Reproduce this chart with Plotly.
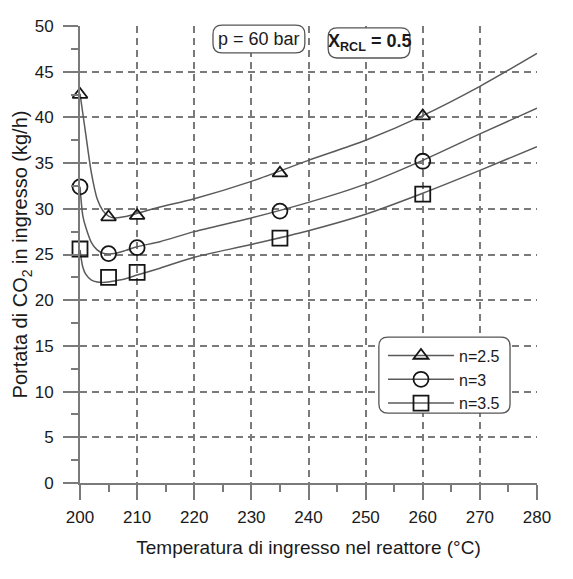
import plotly.graph_objects as go

# Measured inlet CO2 flow rate vs reactor inlet temperature
TEMP = [200, 205, 210, 235, 260]
FLOW_N25 = [42.5, 29.1, 29.25, 33.9, 40.15]
FLOW_N3 = [32.4, 25.1, 25.75, 29.75, 35.2]
FLOW_N35 = [25.6, 22.5, 23.05, 26.8, 31.6]

# Fitted trend curves
FIT_T = [200, 200.5, 201, 202, 203, 204, 205, 206, 208, 210, 214, 220, 230, 240, 250, 260, 270, 280]
FIT_N25 = [42.6, 40.4, 38.2, 33.9, 31.1, 29.8, 29.2, 29.0, 29.15, 29.5, 30.2, 31.1, 33.0, 35.3, 37.5, 40.2, 43.4, 47.0]
FIT_N3 = [32.4, 29.2, 28.0, 26.3, 25.5, 25.15, 25.05, 25.1, 25.45, 25.85, 26.4, 27.5, 29.0, 30.7, 32.7, 35.3, 38.2, 41.0]
FIT_N35 = [25.5, 23.6, 22.85, 22.2, 22.0, 21.95, 22.0, 22.1, 22.35, 22.75, 23.5, 24.7, 26.1, 27.6, 29.4, 31.7, 34.2, 36.8]

SERIES = [
    ("n=2.5", FLOW_N25, FIT_N25, "triangle-up-open", 13),
    ("n=3", FLOW_N3, FIT_N3, "circle-open", 15),
    ("n=3.5", FLOW_N35, FIT_N35, "square-open", 15),
]

FONT = "Liberation Sans, Arial, sans-serif"
CURVE_COLOR = "#5a5a5a"
MARK_COLOR = "#151515"
GRID_COLOR = "#7a7a7a"
TEXT_COLOR = "#1a1a1a"

fig = go.Figure()

for name, pts, fit, symbol, size in SERIES:
    fig.add_trace(go.Scatter(
        x=FIT_T, y=fit, mode="lines",
        line=dict(color=CURVE_COLOR, width=1.5, shape="spline", smoothing=0.8),
        legendgroup=name, showlegend=False, hoverinfo="skip",
    ))
    # separate points with gaps so no connecting segments are drawn,
    # while the legend entry still shows line + marker
    xs, ys = [], []
    for t, v in zip(TEMP, pts):
        xs += [t, None]
        ys += [v, None]
    fig.add_trace(go.Scatter(
        x=xs, y=ys, mode="lines+markers", name=name, connectgaps=False,
        line=dict(color=CURVE_COLOR, width=1.5),
        marker=dict(symbol=symbol, size=size, color=MARK_COLOR,
                    line=dict(color=MARK_COLOR, width=1.8)),
        legendgroup=name, cliponaxis=False,
    ))


def rounded_box(x0, y0, x1, y1, rx, ry):
    return (f"M{x0 + rx},{y0} L{x1 - rx},{y0} Q{x1},{y0} {x1},{y0 + ry} "
            f"L{x1},{y1 - ry} Q{x1},{y1} {x1 - rx},{y1} "
            f"L{x0 + rx},{y1} Q{x0},{y1} {x0},{y1 - ry} "
            f"L{x0},{y0 + ry} Q{x0},{y0} {x0 + rx},{y0} Z")


r = 0.02
box_style = dict(type="path", xref="paper", yref="paper", layer="above",
                 fillcolor="white", line=dict(color="#555555", width=1.3))
shapes = [
    dict(path=rounded_box(0.654, 0.153, 0.941, 0.319, r, r), **box_style),
    dict(path=rounded_box(0.291, 0.941, 0.492, 1.002, r, r), **box_style),
    dict(path=rounded_box(0.543, 0.930, 0.722, 0.996, r, r), **box_style),
]

annotations = [
    dict(text="p = 60 bar", x=0.3915, y=0.9715, xref="paper", yref="paper",
         xanchor="center", yanchor="middle", showarrow=False,
         font=dict(size=18, color=TEXT_COLOR, family=FONT)),
    dict(text="<b>X<sub>RCL</sub> = 0.5</b>", x=0.6325, y=0.963, xref="paper", yref="paper",
         xanchor="center", yanchor="middle", showarrow=False,
         font=dict(size=18, color=TEXT_COLOR, family=FONT)),
]

axis_common = dict(
    showline=True, linecolor=GRID_COLOR, linewidth=2,
    showgrid=True, gridcolor=GRID_COLOR, gridwidth=1.5, griddash="7px,5px",
    zeroline=False,
    ticks="outside", ticklen=15, tickwidth=1.5, tickcolor=GRID_COLOR,
    tickfont=dict(size=17, color=TEXT_COLOR, family=FONT),
)

fig.update_layout(
    width=573, height=579,
    margin=dict(l=80, r=36, t=26, b=96),
    paper_bgcolor="white", plot_bgcolor="white",
    font=dict(family=FONT, color=TEXT_COLOR),
    xaxis=dict(
        range=[200, 280], dtick=10, tick0=200,
        minor=dict(dtick=5, ticks="outside", ticklen=7, tickwidth=1.5,
                   tickcolor=GRID_COLOR, showgrid=False),
        ticklabelstandoff=3,
        title=dict(text="Temperatura di ingresso nel reattore (°C)",
                   font=dict(size=19, family=FONT, color=TEXT_COLOR), standoff=14),
        **axis_common,
    ),
    yaxis=dict(
        range=[0, 50], dtick=5, tick0=0,
        minor=dict(dtick=2.5, ticks="outside", ticklen=7, tickwidth=1.5,
                   tickcolor=GRID_COLOR, showgrid=False),
        ticklabelstandoff=6,
        title=dict(text="Portata di CO<sub>2</sub> in ingresso (kg/h)",
                   font=dict(size=20, family=FONT, color=TEXT_COLOR), standoff=0),
        **axis_common,
    ),
    legend=dict(
        x=0.663, y=0.316, xanchor="left", yanchor="top",
        bgcolor="rgba(0,0,0,0)", borderwidth=0,
        font=dict(size=16, family=FONT, color=TEXT_COLOR),
        itemwidth=66, tracegroupgap=0,
    ),
    shapes=shapes,
    annotations=annotations,
)

fig.write_html("out.html")
